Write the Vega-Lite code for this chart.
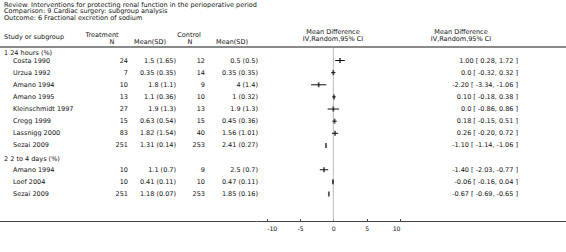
{
  "$schema": "https://vega.github.io/schema/vega-lite/v6.json",
  "width": 566,
  "height": 252,
  "autosize": "none",
  "padding": 0,
  "background": "white",
  "config": {
    "view": {"stroke": null},
    "text": {"font": "DejaVu Sans", "fontSize": 6.5, "color": "#111", "baseline": "middle"}
  },
  "datasets": {
    "studies": [
      {"g": "1", "study": "Costa 1990", "tn": 24, "tmsd": "1.5 (1.65)", "cn": 12, "cmsd": "0.5 (0.5)", "md": 1.0, "lo": 0.28, "hi": 1.72, "ci": "1.00 [ 0.28, 1.72 ]"},
      {"g": "1", "study": "Urzua 1992", "tn": 7, "tmsd": "0.35 (0.35)", "cn": 14, "cmsd": "0.35 (0.35)", "md": 0.0, "lo": -0.32, "hi": 0.32, "ci": "0.0 [ -0.32, 0.32 ]"},
      {"g": "1", "study": "Amano 1994", "tn": 10, "tmsd": "1.8 (1.1)", "cn": 9, "cmsd": "4 (1.4)", "md": -2.2, "lo": -3.34, "hi": -1.06, "ci": "-2.20 [ -3.34, -1.06 ]"},
      {"g": "1", "study": "Amano 1995", "tn": 13, "tmsd": "1.1 (0.36)", "cn": 10, "cmsd": "1 (0.32)", "md": 0.1, "lo": -0.18, "hi": 0.38, "ci": "0.10 [ -0.18, 0.38 ]"},
      {"g": "1", "study": "Kleinschmidt 1997", "tn": 27, "tmsd": "1.9 (1.3)", "cn": 13, "cmsd": "1.9 (1.3)", "md": 0.0, "lo": -0.86, "hi": 0.86, "ci": "0.0 [ -0.86, 0.86 ]"},
      {"g": "1", "study": "Cregg 1999", "tn": 15, "tmsd": "0.63 (0.54)", "cn": 15, "cmsd": "0.45 (0.36)", "md": 0.18, "lo": -0.15, "hi": 0.51, "ci": "0.18 [ -0.15, 0.51 ]"},
      {"g": "1", "study": "Lassnigg 2000", "tn": 83, "tmsd": "1.82 (1.54)", "cn": 40, "cmsd": "1.56 (1.01)", "md": 0.26, "lo": -0.2, "hi": 0.72, "ci": "0.26 [ -0.20, 0.72 ]"},
      {"g": "1", "study": "Sezai 2009", "tn": 251, "tmsd": "1.31 (0.14)", "cn": 253, "cmsd": "2.41 (0.27)", "md": -1.1, "lo": -1.14, "hi": -1.06, "ci": "-1.10 [ -1.14, -1.06 ]"},
      {"g": "2", "study": "Amano 1994", "tn": 10, "tmsd": "1.1 (0.7)", "cn": 9, "cmsd": "2.5 (0.7)", "md": -1.4, "lo": -2.03, "hi": -0.77, "ci": "-1.40 [ -2.03, -0.77 ]"},
      {"g": "2", "study": "Loef 2004", "tn": 10, "tmsd": "0.41 (0.11)", "cn": 10, "cmsd": "0.47 (0.11)", "md": -0.06, "lo": -0.16, "hi": 0.04, "ci": "-0.06 [ -0.16, 0.04 ]"},
      {"g": "2", "study": "Sezai 2009", "tn": 251, "tmsd": "1.18 (0.07)", "cn": 253, "cmsd": "1.85 (0.16)", "md": -0.67, "lo": -0.69, "hi": -0.65, "ci": "-0.67 [ -0.69, -0.65 ]"}
    ],
    "groups": [
      {"g": "1", "label": "1 24 hours (%)", "first": "1 Costa 1990"},
      {"g": "2", "label": "2 2 to 4 days (%)", "first": "2 Amano 1994"}
    ]
  },
  "data": {"name": "studies"},
  "transform": [{"calculate": "datum.g + ' ' + datum.study", "as": "key"}],
  "encoding": {
    "y": {
      "field": "key",
      "type": "nominal",
      "scale": {
        "type": "point",
        "domain": ["1 Costa 1990", "1 Urzua 1992", "1 Amano 1994", "1 Amano 1995", "1 Kleinschmidt 1997", "1 Cregg 1999", "1 Lassnigg 2000", "1 Sezai 2009", "gap", "2 Amano 1994", "2 Loef 2004", "2 Sezai 2009"],
        "range": [60.5, 194],
        "padding": 0
      },
      "axis": null
    }
  },
  "layer": [
    {
      "data": {"values": [{}]},
      "mark": {"type": "rule", "color": "#8a8a8a", "strokeWidth": 2},
      "encoding": {"x": {"value": 0}, "x2": {"value": 566}, "y": {"value": 47}}
    },
    {
      "data": {"values": [{}]},
      "mark": {"type": "rule", "color": "#bbbbbb", "strokeWidth": 1},
      "encoding": {
        "x": {"datum": 0, "type": "quantitative", "scale": {"domain": [-10, 10], "range": [266.67, 400]}},
        "y": {"value": 48},
        "y2": {"value": 221}
      }
    },
    {
      "data": {"values": [{}]},
      "mark": {"type": "rule", "color": "#444444", "strokeWidth": 1},
      "encoding": {
        "x": {"datum": -50, "type": "quantitative", "scale": {"domain": [-10, 10], "range": [266.67, 400]}},
        "x2": {"datum": 36},
        "y": {"value": 221.5}
      }
    },
    {
      "mark": {"type": "rule", "color": "#111111", "strokeWidth": 1},
      "encoding": {
        "x": {
          "field": "lo",
          "type": "quantitative",
          "scale": {"domain": [-10, 10], "range": [266.67, 400]},
          "axis": {
            "values": [-10, -5, 0, 5, 10],
            "domain": false,
            "grid": false,
            "title": null,
            "offset": -30.5,
            "tickSize": -3,
            "tickColor": "#444444",
            "labelPadding": 6.5,
            "labelFont": "DejaVu Sans",
            "labelFontSize": 6.2,
            "labelColor": "#111111",
            "labelExpr": "'' + datum.value"
          }
        },
        "x2": {"field": "hi"}
      }
    },
    {
      "mark": {"type": "tick", "orient": "vertical", "color": "#111111", "size": 5, "thickness": 1.8},
      "encoding": {
        "x": {"field": "md", "type": "quantitative", "scale": {"domain": [-10, 10], "range": [266.67, 400]}}
      }
    },
    {
      "mark": {"type": "text", "align": "left"},
      "encoding": {"x": {"value": 13}, "text": {"field": "study"}}
    },
    {
      "mark": {"type": "text", "align": "right"},
      "encoding": {"x": {"value": 128}, "text": {"field": "tn"}}
    },
    {
      "mark": {"type": "text", "align": "right"},
      "encoding": {"x": {"value": 176}, "text": {"field": "tmsd"}}
    },
    {
      "mark": {"type": "text", "align": "right"},
      "encoding": {"x": {"value": 205}, "text": {"field": "cn"}}
    },
    {
      "mark": {"type": "text", "align": "right"},
      "encoding": {"x": {"value": 258}, "text": {"field": "cmsd"}}
    },
    {
      "mark": {"type": "text", "align": "right"},
      "encoding": {"x": {"value": 518}, "text": {"field": "ci"}}
    },
    {
      "data": {"name": "groups"},
      "transform": [{"filter": "datum.g == '1'"}],
      "mark": {"type": "text", "align": "left", "dy": -7.5},
      "encoding": {
        "x": {"value": 4},
        "y": {"field": "first", "type": "nominal"},
        "text": {"field": "label"}
      }
    },
    {
      "data": {"name": "groups"},
      "transform": [{"filter": "datum.g == '2'"}],
      "mark": {"type": "text", "align": "left", "dy": -10.5},
      "encoding": {
        "x": {"value": 4},
        "y": {"field": "first", "type": "nominal"},
        "text": {"field": "label"}
      }
    },
    {
      "data": {"values": [{}]},
      "mark": {"type": "text", "align": "left", "lineHeight": 6.7, "baseline": "top", "text": ["Review:  Interventions for protecting renal function in the perioperative period", "Comparison:  9 Cardiac surgery: subgroup analysis", "Outcome:  6 Fractional excretion of sodium"]},
      "encoding": {"x": {"value": 4}, "y": {"value": 1.5}}
    },
    {
      "data": {"values": [{}]},
      "mark": {"type": "text", "align": "left", "text": "Study or subgroup"},
      "encoding": {"x": {"value": 4}, "y": {"value": 37}}
    },
    {
      "data": {"values": [{}]},
      "mark": {"type": "text", "align": "center", "text": "Treatment"},
      "encoding": {"x": {"value": 102}, "y": {"value": 35}}
    },
    {
      "data": {"values": [{}]},
      "mark": {"type": "text", "align": "center", "text": "N"},
      "encoding": {"x": {"value": 112}, "y": {"value": 42}}
    },
    {
      "data": {"values": [{}]},
      "mark": {"type": "text", "align": "center", "text": "Mean(SD)"},
      "encoding": {"x": {"value": 150}, "y": {"value": 42}}
    },
    {
      "data": {"values": [{}]},
      "mark": {"type": "text", "align": "center", "text": "Control"},
      "encoding": {"x": {"value": 189}, "y": {"value": 35}}
    },
    {
      "data": {"values": [{}]},
      "mark": {"type": "text", "align": "center", "text": "N"},
      "encoding": {"x": {"value": 190}, "y": {"value": 42}}
    },
    {
      "data": {"values": [{}]},
      "mark": {"type": "text", "align": "center", "text": "Mean(SD)"},
      "encoding": {"x": {"value": 232}, "y": {"value": 42}}
    },
    {
      "data": {"values": [{}]},
      "mark": {"type": "text", "align": "center", "lineHeight": 6.8, "text": ["Mean Difference", "IV,Random,95% CI"]},
      "encoding": {"x": {"value": 333}, "y": {"value": 32}}
    },
    {
      "data": {"values": [{}]},
      "mark": {"type": "text", "align": "center", "lineHeight": 6.8, "text": ["Mean Difference", "IV,Random,95% CI"]},
      "encoding": {"x": {"value": 461}, "y": {"value": 32}}
    }
  ]
}
